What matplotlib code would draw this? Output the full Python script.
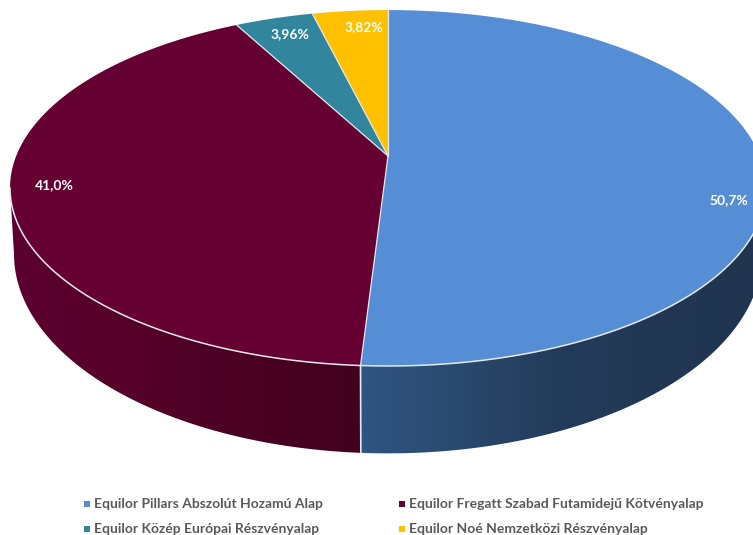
import numpy as np
import matplotlib
matplotlib.use("Agg")
import matplotlib.pyplot as plt
from matplotlib.patches import Polygon, Rectangle
from matplotlib.colors import to_rgb

names = ["Equilor Pillars Abszolút Hozamú Alap", "Equilor Fregatt Szabad Futamidejű Kötvényalap",
         "Equilor Közép Európai Részvényalap", "Equilor Noé Nemzetközi Részvényalap"]
values = [50.7, 41.0, 3.96, 3.82]
labels = ["50,7%", "41,0%", "3,96%", "3,82%"]
top_colors = ["#558ed5", "#660033", "#31859c", "#ffc000"]
label_xy = [(729, 200), (54, 185), (290, 34), (364, 27)]

W, H = 753, 535
fig = plt.figure(figsize=(W/100, H/100), dpi=100)
ax = fig.add_axes([0, 0, 1, 1])

K = 0.18
RIM = "#e6e8ec"
TOP = dict(cx=388, cy=156, r=371.8, s=172.2)
BOT = dict(cx=388, cy=218, r=367.9, s=193.0)

def proj(theta, g):
    u, v = np.sin(theta), np.cos(theta)
    w = 1 + K*v
    return g["cx"] + g["r"]*u/w, g["cy"] - g["s"]*v/w

fr = np.array(values) / sum(values)
edges = 2*np.pi*np.concatenate([[0], np.cumsum(fr)])
right_ext = np.arccos(-K)
left_ext = 2*np.pi - right_ext

def side(a0, a1, stops_x, stops_c):
    th = np.linspace(a0, a1, 300)
    xt, yt = proj(th, TOP)
    xb, yb = proj(th, BOT)
    poly = Polygon(np.column_stack([np.r_[xt, xb[::-1]], np.r_[yt, yb[::-1]]]),
                   closed=True, fc="none", ec="none", transform=ax.transData)
    ax.add_patch(poly)
    xs = np.arange(0, W + 1)
    cols = np.array([to_rgb(c) for c in stops_c])
    grad = np.stack([np.interp(xs, stops_x, cols[:, k]) for k in range(3)], axis=-1)[None, :, :]
    im = ax.imshow(grad, extent=[0, W, H, 0], aspect="auto", zorder=2, interpolation="bilinear")
    im.set_clip_path(poly)

side(right_ext, edges[1], [361, 450, 560, 753], ["#2f5583", "#2a4a70", "#233b5a", "#20344f"])
side(edges[1], left_ext, [0, 120, 300, 361], ["#5c0030", "#560029", "#46001f", "#420020"])

ax.set_xlim(0, W); ax.set_ylim(H, 0); ax.axis("off")

# seam between the side faces
sx, sy = proj(edges[1], TOP)
bx, by = proj(edges[1], BOT)
ax.plot([sx, bx], [sy, by], color=RIM, lw=1.2, zorder=3)

# top faces
for i in range(len(values)):
    th = np.linspace(edges[i], edges[i+1], 300)
    x, y = proj(th, TOP)
    pts = np.column_stack([np.r_[TOP["cx"], x], np.r_[TOP["cy"], y]])
    ax.add_patch(Polygon(pts, closed=True, fc=top_colors[i], ec="none", zorder=4))

# radial lines and front rim
for a in edges[:-1]:
    x, y = proj(a, TOP)
    ax.plot([TOP["cx"], x], [TOP["cy"], y], color=RIM, lw=0.9, zorder=5)
th = np.linspace(right_ext, left_ext, 500)
x, y = proj(th, TOP)
ax.plot(x, y, color=RIM, lw=1.1, zorder=5)

for (lx, ly), t in zip(label_xy, labels):
    ax.text(lx, ly, t, color="white", fontsize=10, fontweight="bold", family="Lato",
            ha="center", va="center", zorder=6)

# legend
leg_xy = [(87, 504), (402, 504), (87, 529), (402, 529)]
for (lx, ly), n, c in zip(leg_xy, names, top_colors):
    ax.add_patch(Rectangle((lx-3, ly-3), 6, 6, fc=c, ec="none", zorder=6))
    ax.text(lx+7, ly, n, color="#595959", fontsize=10, fontweight="bold", family="Lato",
            ha="left", va="center", zorder=6)

fig.savefig("out.png", dpi=100)
